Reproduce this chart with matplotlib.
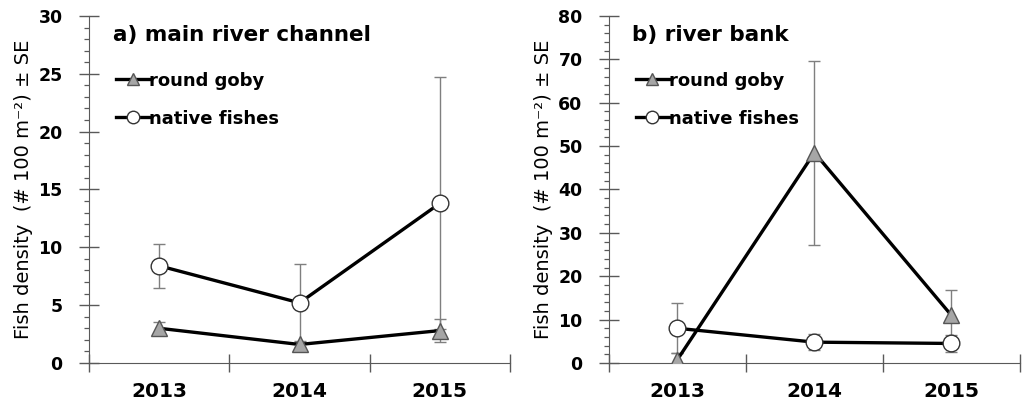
import matplotlib
matplotlib.use("Agg")
import matplotlib.pyplot as plt
from matplotlib.ticker import MultipleLocator
from matplotlib.lines import Line2D

plt.rcParams['font.family'] = ['DejaVu Sans']

years = ["2013", "2014", "2015"]

# panel a) main river channel
a_goby = [3.0, 1.6, 2.8]
a_goby_se = [0.5, 0.3, 1.0]
a_native = [8.4, 5.2, 13.8]
a_native_se = [1.9, 3.4, 10.9]

# panel b) river bank
b_goby = [0.8, 48.5, 11.0]
b_goby_se = [1.5, 21.2, 5.8]
b_native = [8.0, 4.8, 4.5]
b_native_se = [5.8, 1.8, 2.0]

fig = plt.figure(figsize=(10.27, 4.03), dpi=100)
ax1 = fig.add_axes([0.0867, 0.0993, 0.4099, 0.8611])
ax2 = fig.add_axes([0.593, 0.0993, 0.400, 0.8611])

AX_COL = '#595959'

def draw(ax, goby, goby_se, native, native_se, ymax, major, minor, title):
    xs = [0.5, 1.5, 2.5]
    for vals, se in [(native, native_se), (goby, goby_se)]:
        ax.errorbar(xs, vals, yerr=se, fmt='none', ecolor='#7f7f7f',
                    elinewidth=1.0, capsize=4, capthick=1.0, zorder=2)
    ax.plot(xs, native, '-', color='black', lw=2.4, zorder=3)
    ax.plot(xs, goby, '-', color='black', lw=2.4, zorder=3)
    ax.plot(xs, native, 'o', mfc='white', mec='#333333', ms=12, mew=1.0, zorder=4)
    ax.plot(xs, goby, '^', mfc='#a6a6a6', mec='#555555', ms=12, mew=1.0, zorder=4)
    ax.set_xlim(0, 3)
    ax.set_ylim(0, ymax)
    ax.set_xticks([0, 1, 2, 3])
    ax.set_xticklabels([])
    ax.set_xticks(xs, minor=True)
    ax.set_xticklabels(years, minor=True, fontsize=14.5, fontweight='bold')
    ax.tick_params(axis='x', which='minor', length=0, pad=14)
    ax.tick_params(axis='x', which='major', direction='inout', length=13, width=1)
    ax.yaxis.set_major_locator(MultipleLocator(major))
    ax.yaxis.set_minor_locator(MultipleLocator(minor))
    ax.tick_params(axis='y', which='major', direction='inout', length=14, width=1,
                   labelsize=12.5, pad=12)
    ax.tick_params(axis='y', which='minor', direction='out', length=3.6, width=0.9)
    for lab in ax.get_yticklabels():
        lab.set_fontweight('bold')
    for s in ['top', 'right']:
        ax.spines[s].set_visible(False)
    ax.spines['left'].set_color(AX_COL)
    ax.spines['bottom'].set_color(AX_COL)
    ax.tick_params(colors=AX_COL, which='both')
    ax.tick_params(labelcolor='black', which='both')
    ax.set_ylabel("Fish density  (# 100 m⁻²) ± SE", fontsize=14, labelpad=4)
    ax.text(24 / 421, 0.945, title, transform=ax.transAxes, fontsize=15.5,
            fontweight='bold', va='center', ha='left')
    handles = [Line2D([], [], color='black', lw=2.4, marker='^', mfc='#a6a6a6',
                      mec='#555555', ms=9),
               Line2D([], [], color='black', lw=2.4, marker='o', mfc='white',
                      mec='#333333', ms=9)]
    ax.legend(handles, ["round goby", "native fishes"], loc='upper left',
              bbox_to_anchor=(0.047, 0.86), frameon=False, handlelength=1.85,
              handletextpad=0.0, labelspacing=1.1, borderaxespad=0,
              prop={'weight': 'bold', 'size': 13})

draw(ax1, a_goby, a_goby_se, a_native, a_native_se, 30, 5, 1, "a) main river channel")
draw(ax2, b_goby, b_goby_se, b_native, b_native_se, 80, 10, 2, "b) river bank")

fig.savefig("out.png", dpi=100)
